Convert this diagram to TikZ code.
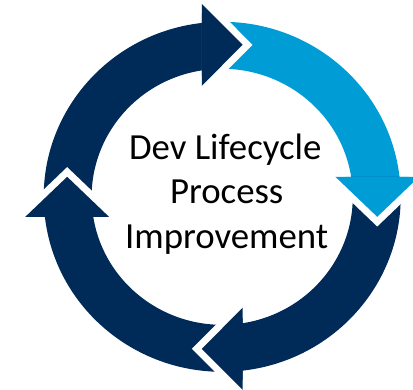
\documentclass[tikz,border=0pt]{standalone}
\usepackage{fontspec}
\setmainfont{Carlito}
\definecolor{navy}{RGB}{0,42,87}
\definecolor{sky}{RGB}{0,156,214}
\begin{document}
\begin{tikzpicture}[x=1pt,y=1pt,
  txt/.style={font=\fontsize{36.8}{44}\selectfont, text=black, inner sep=0pt, anchor=base},
  gapline/.style={draw=white, line width=14pt, line join=miter, line cap=butt}]
\useasboundingbox (-222.2,-192.2) rectangle (190.8,196.8);
\clip (-222.2,-192.2) rectangle (190.8,196.8);
\begin{scope}[xscale=1.02]
  % full arrows (band + head)
  \foreach \k/\c in {0/navy,1/sky,2/navy,3/navy}{
    \begin{scope}[rotate=-90*\k]
      \fill[\c] (186.56:175) arc[start angle=186.56,end angle=96.56,radius=175]
        -- (-20,193) -- (20,152) -- (-20,111) -- (98.99:128)
        arc[start angle=98.99,end angle=188.99,radius=128] -- cycle;
    \end{scope}
  }
  % heads redrawn with white gap over the next arrow's tail
  \foreach \k/\c in {0/navy,1/sky,2/navy,3/navy}{
    \begin{scope}[rotate=-90*\k]
      \path[gapline] (-20,193) -- (20,152) -- (-20,111);
      \fill[\c] (-20,193) -- (20,152) -- (-20,111) -- cycle;
    \end{scope}
  }
\end{scope}
\node[txt] (l1) at (3,37.8) {Dev Lifecycle};
\node[txt] (l2) at (4.5,-6.2) {Process};
\node[txt] (l3) at (4.5,-51.2) {Improvement};
\end{tikzpicture}
\end{document}
